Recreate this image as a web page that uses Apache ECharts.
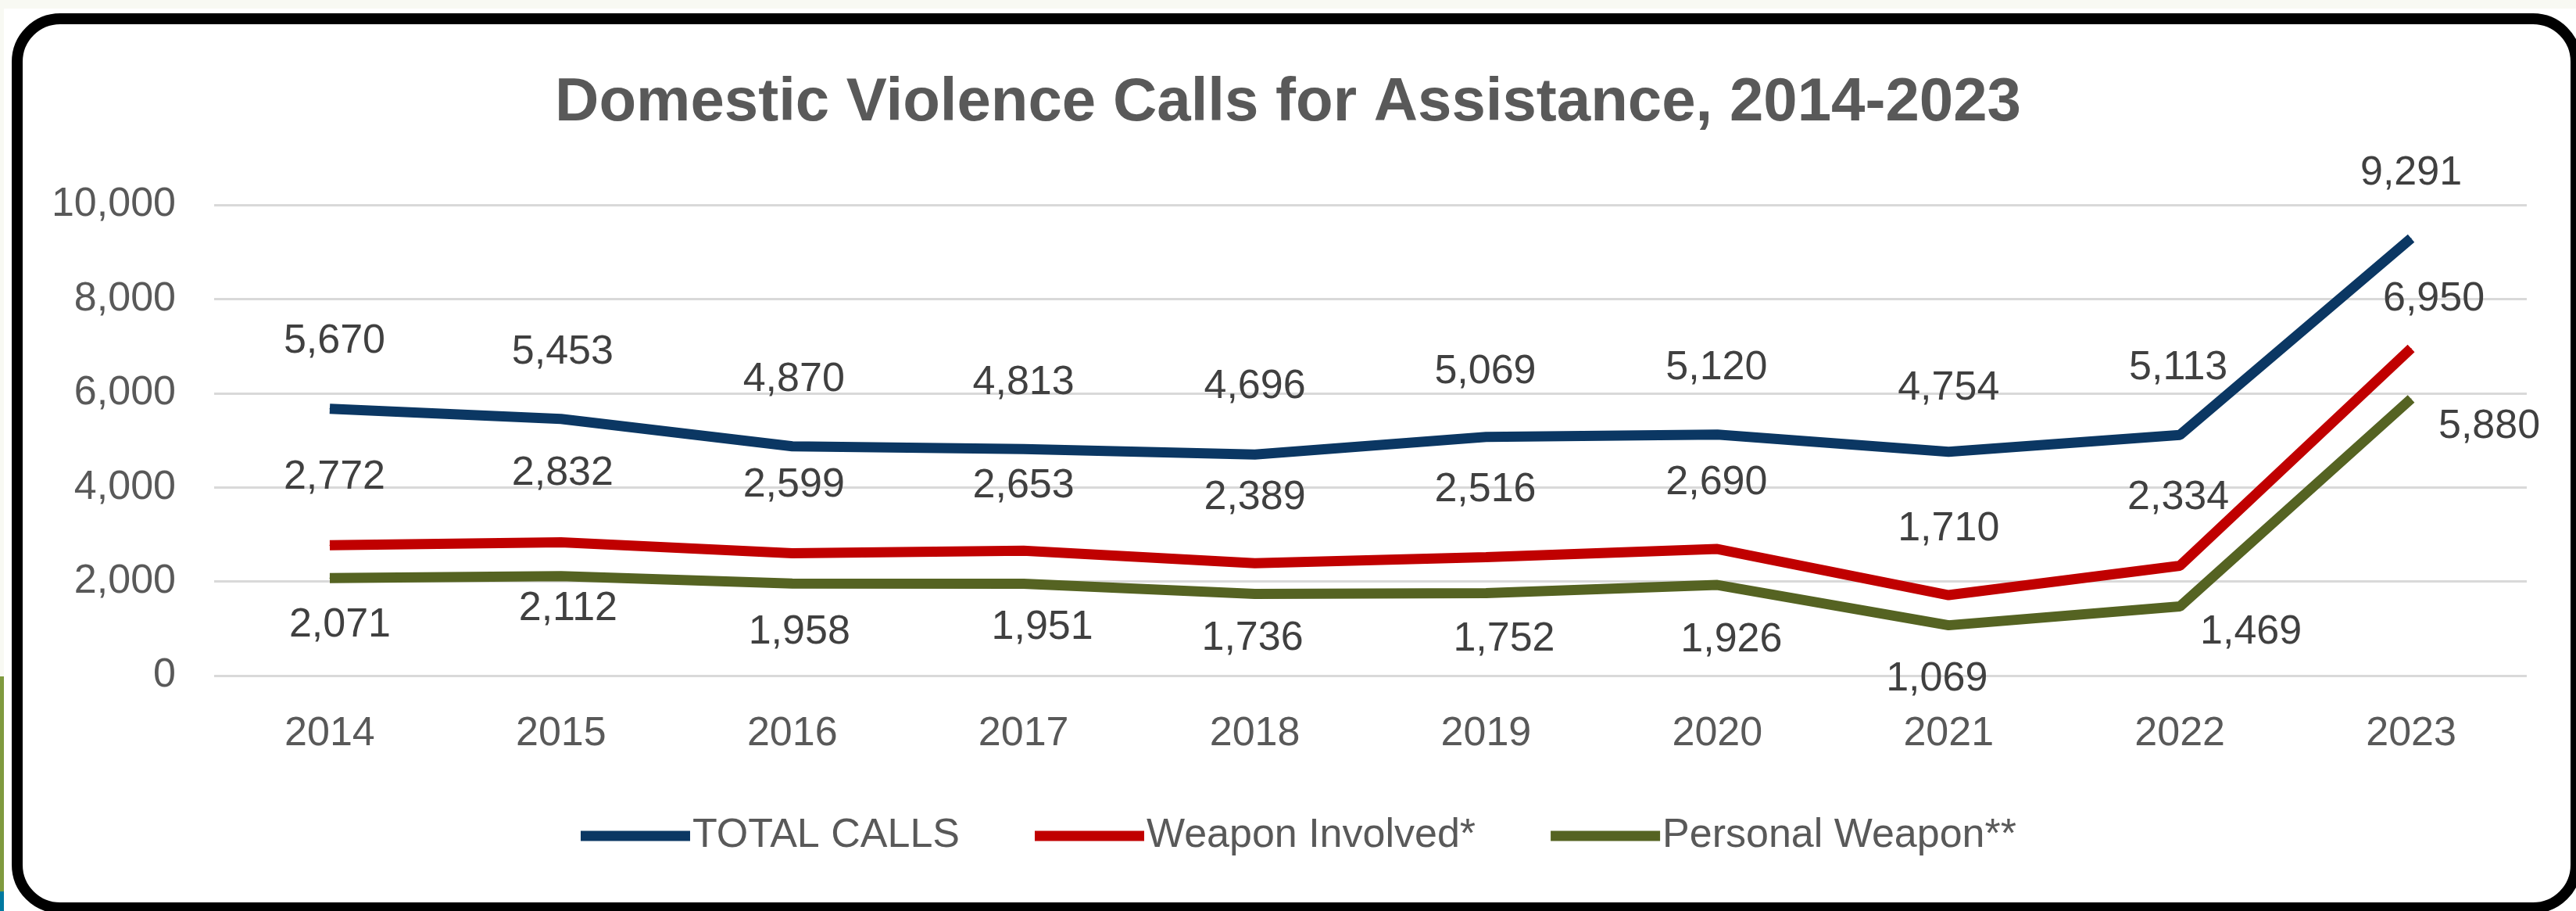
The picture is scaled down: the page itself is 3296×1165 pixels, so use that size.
<!DOCTYPE html>
<html>
<head>
<meta charset="utf-8">
<script src="https://cdn.jsdelivr.net/npm/echarts@6/dist/echarts.min.js"></script>
<style>
  html, body { margin: 0; padding: 0; background: #ffffff; overflow: hidden; }
  #wrap { position: relative; width: 3296px; height: 1165px; overflow: hidden; background: #ffffff; }
  .deco { position: absolute; }
  #frame { position: absolute; left: 15px; top: 17px; width: 3288px; height: 1151px; box-sizing: border-box;
           border: 14px solid #000; border-radius: 62px; background: #fff; }
  #chart { position: absolute; left: 0; top: 0; width: 3296px; height: 1165px; }
</style>
</head>
<body>
<div id="wrap">
  <div class="deco" style="left:0;top:0;width:3296px;height:11px;background:#f8f9f3;"></div>
  <div class="deco" style="left:0;top:0;width:5px;height:865px;background:#f8f9f3;"></div>
  <div class="deco" style="left:0;top:865px;width:5px;height:275px;background:#7f9a3e;"></div>
  <div class="deco" style="left:0;top:1140px;width:5px;height:25px;background:#0079a0;"></div>
  <div id="frame"></div>
  <div id="chart"></div>
</div>
<script>
// ---- data ----
const years = ['2014','2015','2016','2017','2018','2019','2020','2021','2022','2023'];
const totalCalls = [5670, 5453, 4870, 4813, 4696, 5069, 5120, 4754, 5113, 9291];
const weaponInvolved = [2772, 2832, 2599, 2653, 2389, 2516, 2690, 1710, 2334, 6950];
const personalWeapon = [2071, 2112, 1958, 1951, 1736, 1752, 1926, 1069, 1469, 5880];
const seriesNames = ['TOTAL CALLS', 'Weapon Involved*', 'Personal Weapon**'];
const yTicks = [0, 2000, 4000, 6000, 8000, 10000];

// label placement (label centre relative to point, px) -- styling only
const totalShift = [[6,-86],[2,-85],[2,-85],[0,-84],[0,-86],[-1,-83],[-1,-85],[0,-81],[-2,-85],[0,-83]];
const weaponShift = [[6,-86],[2,-87],[2,-86],[0,-82],[0,-83],[-1,-85],[-1,-84],[0,-84],[-2,-86],[29,-62]];
const personalShift = [[13,60],[9,41],[9,62],[24,56],[-3,57],[23,59],[18,70],[-15,69],[91,33],[100,35]];

const FONT = "'Liberation Sans', Arial, sans-serif";
const LH = 52;
const fmt = v => v.toLocaleString('en-US');

function buildData(values, shifts, above) {
  return values.map((v, i) => ({
    value: v,
    label: {
      offset: [shifts[i][0], above ? shifts[i][1] + LH / 2 : shifts[i][1] - LH / 2]
    }
  }));
}

function lineSeries(name, values, shifts, color, above) {
  return {
    name: name,
    type: 'line',
    data: buildData(values, shifts, above),
    symbol: 'circle',
    symbolSize: 1,
    showSymbol: true,
    itemStyle: { color: color },
    lineStyle: { color: color, width: 13 },
    emphasis: { disabled: true },
    label: {
      show: true,
      position: above ? 'top' : 'bottom',
      distance: 0,
      formatter: p => fmt(p.value),
      fontFamily: FONT,
      fontSize: 52,
      lineHeight: LH,
      color: '#404040'
    },
    animation: false
  };
}

const chart = echarts.init(document.getElementById('chart'), null, { renderer: 'canvas' });
chart.setOption({
  backgroundColor: 'transparent',
  animation: false,
  title: {
    text: 'Domestic Violence Calls for Assistance, 2014-2023',
    left: 'center',
    top: 88,
    textStyle: { fontFamily: FONT, fontSize: 78, fontWeight: 'bold', color: '#595959', lineHeight: 78 }
  },
  legend: {
    data: seriesNames,
    left: 738,
    top: 1038,
    icon: 'rect',
    itemWidth: 140,
    itemHeight: 13,
    itemGap: 96,
    textStyle: { fontFamily: FONT, fontSize: 52, color: '#595959', lineHeight: 52, padding: [0, 0, 0, -2] }
  },
  grid: { left: 274, right: 63, top: 262, bottom: 301, containLabel: false },
  xAxis: {
    type: 'category',
    data: years,
    boundaryGap: true,
    axisLine: { show: false },
    axisTick: { show: false },
    axisLabel: { fontFamily: FONT, fontSize: 52, color: '#595959', margin: 49 },
    splitLine: { show: false }
  },
  yAxis: {
    type: 'value',
    min: yTicks[0],
    max: yTicks[yTicks.length - 1],
    interval: yTicks[1] - yTicks[0],
    axisLine: { show: false },
    axisTick: { show: false },
    axisLabel: {
      fontFamily: FONT, fontSize: 52, color: '#595959', margin: 49,
      padding: [0, 0, 12, 0],
      formatter: v => fmt(v)
    },
    splitLine: { show: true, lineStyle: { color: '#d9d9d9', width: 3 } }
  },
  series: [
    lineSeries(seriesNames[0], totalCalls, totalShift, '#0b3763', true),
    lineSeries(seriesNames[1], weaponInvolved, weaponShift, '#c00000', true),
    lineSeries(seriesNames[2], personalWeapon, personalShift, '#556322', false)
  ]
});
</script>
</body>
</html>
